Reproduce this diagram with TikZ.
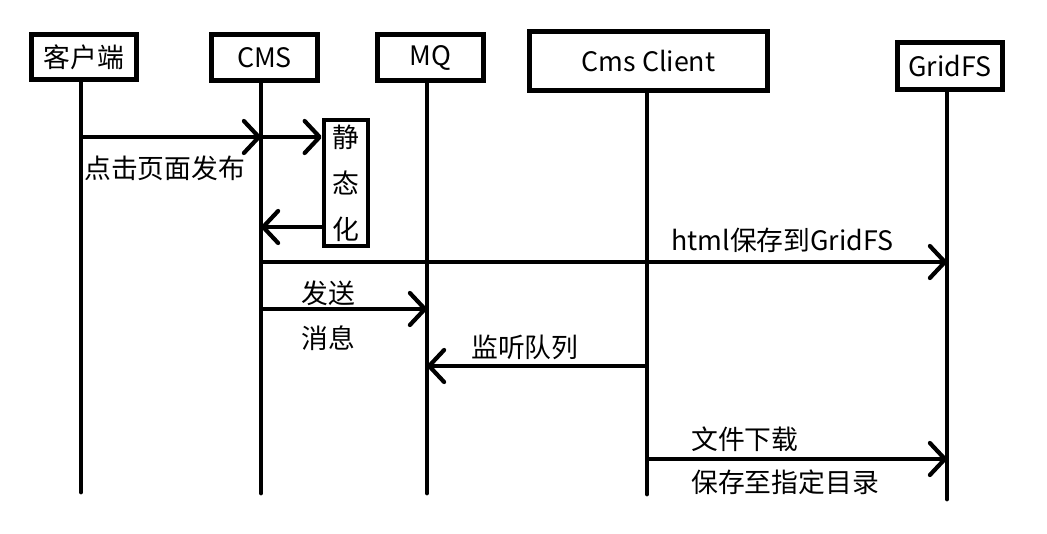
\documentclass[tikz,border=0pt]{standalone}
\usepackage{fontspec}
\setmainfont{Noto Sans CJK SC}
\usetikzlibrary{arrows.meta}
\begin{document}
\begin{tikzpicture}[x=1pt,y=-1pt,
  font=\fontsize{26.8}{32}\selectfont,
  actor/.style={draw=black,line width=5pt,inner sep=0pt,minimum width=#1,fill=white},
  life/.style={line width=4.8pt,line cap=round},
  msg/.style={line width=4.2pt,-{Straight Barb[length=15pt,width=32pt,line width=4.2pt,round]}},
  lbl/.style={inner sep=0pt,anchor=west}]
\path[use as bounding box,fill=white] (0,0) rectangle (1047,533);
% actors
\node[actor=105pt,minimum height=45pt] (cli) at (84,57) {客户端};
\node[actor=106pt,minimum height=46pt] (cms) at (264.5,57.5) {CMS};
\node[actor=106pt,minimum height=46pt] (mq) at (430.5,57.5) {MQ};
\node[actor=238pt,minimum height=59pt] (cc) at (648.5,61) {Cms Client};
\node[actor=105pt,minimum height=47pt] (gfs) at (950,66) {GridFS};
% lifeline ends
\coordinate (cliT) at (81,82);  \coordinate (cliB) at (81,492);
\coordinate (cmsT) at (261,82); \coordinate (cmsB) at (261,493);
\coordinate (mqT) at (427,82);  \coordinate (mqB) at (427,493);
\coordinate (ccT) at (647,92);  \coordinate (ccB) at (647,494);
\coordinate (gfsT) at (947,91); \coordinate (gfsB) at (947,499);
\draw[life] (cliT) -- (cliB);
\draw[life] (cmsT) -- (cmsB);
\draw[life] (mqT) -- (mqB);
\draw[life] (ccT) -- (ccB);
\draw[life] (gfsT) -- (gfsB);
% static box
\node[draw=black,line width=4.5pt,fill=white,inner sep=0pt,minimum width=44pt,minimum height=126pt,align=center,font=\fontsize{26.8}{46}\selectfont] (stat) at (346,183) {静\\态\\化};
% messages
\draw[msg] (cliT |- 0,137) -- (cmsT |- 0,137);
\draw[msg] (cmsT |- 0,137) -- (stat.west |- 0,137);
\draw[msg] (stat.west |- 0,227) -- (cmsT |- 0,227);
\draw[msg] (cmsT |- 0,262) -- (gfsT |- 0,262);
\draw[msg] (cmsT |- 0,309) -- (mqT |- 0,309);
\draw[msg] (ccT |- 0,366) -- (mqT |- 0,366);
\draw[msg] (ccT |- 0,459) -- (gfsT |- 0,459);
% labels
\node[lbl] (l1) at (84,168) {点击页面发布};
\node[lbl] (l2) at (671,240) {html保存到GridFS};
\node[lbl] (l3) at (301,293) {发送};
\node[lbl] (l4) at (301,338) {消息};
\node[lbl] (l5) at (471,347) {监听队列};
\node[lbl] (l6) at (691,439) {文件下载};
\node[lbl] (l7) at (691,482) {保存至指定目录};
\end{tikzpicture}
\end{document}
